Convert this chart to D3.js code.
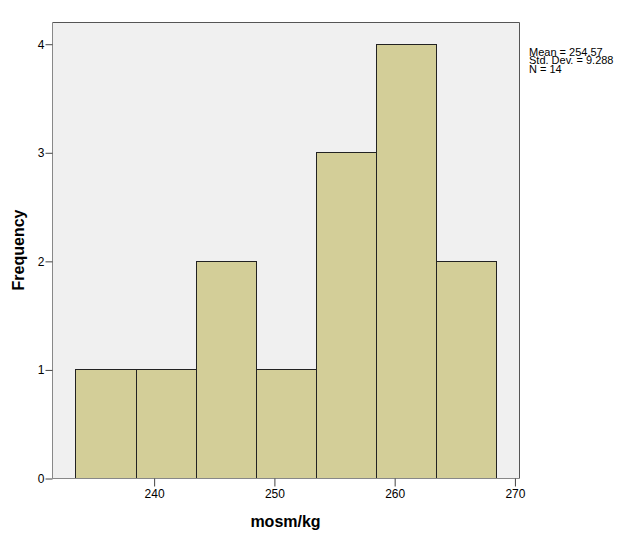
<!DOCTYPE html>
<html lang="en">
<head>
<meta charset="UTF-8">
<title>Histogram mosm/kg</title>
<script src="https://d3js.org/d3.v7.min.js"></script>
<style>
  body { margin: 0; background: #fff; }
  text { font-family: Arial, "Liberation Sans", sans-serif; }
</style>
</head>
<body>
<div id="chart"></div>
<script>
  // histogram data
  const binStarts = [233.5, 238.5, 243.5, 248.5, 253.5, 258.5, 263.5];
  const binWidth = 5;
  const counts = [1, 1, 2, 1, 3, 4, 2];
  const xTicks = [240, 250, 260, 270];
  const yTicks = [0, 1, 2, 3, 4];
  const statLines = ["Mean = 254.57", "Std. Dev. = 9.288", "N = 14"];

  const W = 630, H = 546;
  const plot = { left: 52, right: 519, top: 22, bottom: 478 };

  const svg = d3.select("#chart").append("svg")
    .attr("width", W)
    .attr("height", H);

  const x = d3.scaleLinear()
    .domain([231.55, 270.38])
    .range([plot.left, plot.right]);

  const y = d3.scaleLinear()
    .domain([0, 4.2])
    .range([plot.bottom, plot.top]);

  // plot background
  svg.append("rect")
    .attr("x", plot.left + 0.5)
    .attr("y", plot.top + 0.5)
    .attr("width", plot.right - plot.left)
    .attr("height", plot.bottom - plot.top)
    .attr("fill", "#f0f0f0");

  // bars
  const bins = binStarts.map((s, i) => ({ x0: s, x1: s + binWidth, n: counts[i] }));
  svg.selectAll("rect.bar")
    .data(bins)
    .join("rect")
      .attr("class", "bar")
      .attr("x", d => Math.round(x(d.x0)) + 0.5)
      .attr("y", d => Math.round(y(d.n)) + 0.5)
      .attr("width", d => Math.round(x(d.x1)) - Math.round(x(d.x0)))
      .attr("height", d => Math.round(y(0)) - Math.round(y(d.n)))
      .attr("fill", "#d3ce98")
      .attr("stroke", "#222")
      .attr("stroke-width", 1);

  // frame: top/right darker, left/bottom axis gray
  svg.append("path")
    .attr("d", `M${plot.left + 0.5},${plot.top + 0.5}H${plot.right + 0.5}V${plot.bottom + 0.5}`)
    .attr("fill", "none")
    .attr("stroke", "#555");
  svg.append("path")
    .attr("d", `M${plot.left + 0.5},${plot.top + 0.5}V${plot.bottom + 0.5}H${plot.right + 0.5}`)
    .attr("fill", "none")
    .attr("stroke", "#888");

  // x axis
  const gx = svg.append("g")
    .attr("transform", `translate(0.5,${plot.bottom + 0.5})`)
    .call(d3.axisBottom(x).tickValues(xTicks).tickSize(8).tickSizeOuter(0).tickPadding(3));
  gx.select(".domain").remove();
  gx.selectAll(".tick line").attr("stroke", "#444");
  gx.selectAll("text").attr("font-size", "12px").attr("fill", "#000")
    .style("font-family", "Arial, 'Liberation Sans', sans-serif");

  // y axis
  const gy = svg.append("g")
    .attr("transform", `translate(${plot.left + 0.5},0.5)`)
    .call(d3.axisLeft(y).tickValues(yTicks).tickFormat(d3.format("d")).tickSize(7).tickSizeOuter(0).tickPadding(1));
  gy.select(".domain").remove();
  gy.selectAll(".tick line").attr("stroke", "#444");
  gy.selectAll("text").attr("font-size", "12px").attr("fill", "#000")
    .style("font-family", "Arial, 'Liberation Sans', sans-serif");

  // axis titles
  svg.append("text")
    .attr("x", (plot.left + plot.right) / 2)
    .attr("y", 527)
    .attr("text-anchor", "middle")
    .attr("font-size", "16px")
    .attr("font-weight", "bold")
    .text("mosm/kg");

  svg.append("text")
    .attr("transform", `translate(24,${(plot.top + plot.bottom) / 2}) rotate(-90)`)
    .attr("text-anchor", "middle")
    .attr("font-size", "16px")
    .attr("font-weight", "bold")
    .text("Frequency");

  // stats box
  svg.append("g")
    .selectAll("text")
    .data(statLines)
    .join("text")
      .attr("x", 529)
      .attr("y", (d, i) => 55.5 + i * 8.5)
      .attr("font-size", "11px")
      .attr("fill", "#000")
      .text(d => d);
</script>
</body>
</html>
